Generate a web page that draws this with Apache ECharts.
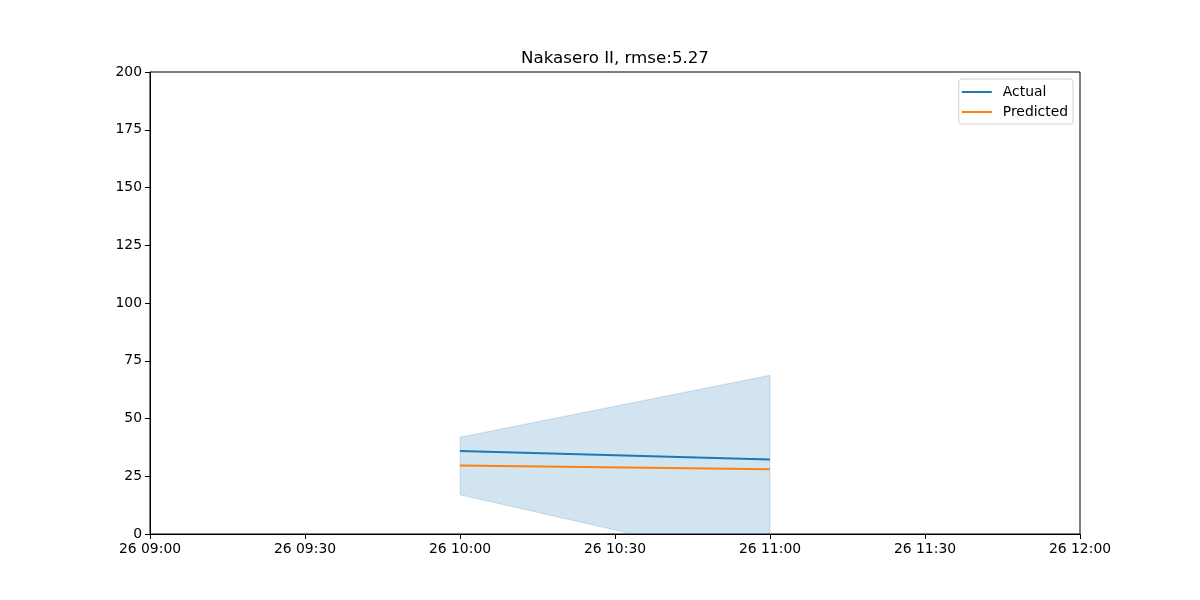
<!DOCTYPE html>
<html>
<head>
<meta charset="utf-8">
<script src="https://cdn.jsdelivr.net/npm/echarts@6/dist/echarts.min.js"></script>
<style>html,body{margin:0;padding:0;background:#fff}#c{width:1200px;height:600px}</style>
</head>
<body>
<div id="c"></div>
<script>
const times = ['2023-01-26T10:00:00', '2023-01-26T11:00:00'];
const actual = [35.9, 32.3];
const predicted = [29.7, 28.0];
const lower = [17.0, -13.5];
const upper = [41.9, 68.7];
const xMin = '2023-01-26T09:00:00';
const xMax = '2023-01-26T12:00:00';
const yTicks = [0, 25, 50, 75, 100, 125, 150, 175, 200];

const ts = times.map(t => new Date(t).getTime());
const pad = n => String(n).padStart(2, '0');
const font = 'DejaVu Sans';
const HALF_HOUR = 30 * 60 * 1000;

const chart = echarts.init(document.getElementById('c'), null, {renderer: 'canvas'});
chart.setOption({
  animation: false,
  backgroundColor: '#fff',
  graphic: [{
    type: 'text', x: 615, y: 59,
    style: {
      text: 'Nakasero II, rmse:5.27', fill: '#000',
      font: '16.67px "DejaVu Sans"', textAlign: 'center', textVerticalAlign: 'middle'
    }
  }],
  legend: {
    orient: 'vertical', right: 127, top: 79,
    backgroundColor: '#fff', borderColor: '#d0d0d0', borderWidth: 1, borderRadius: 3,
    padding: [6, 5, 5, 3], itemGap: 6, itemWidth: 30, itemHeight: 2,
    icon: 'rect',
    textStyle: {fontFamily: font, fontSize: 13.9, color: '#000', padding: [0, 0, 0, 6]},
    data: ['Actual', 'Predicted']
  },
  grid: {left: 150, right: 120, top: 72, bottom: 66, show: true, borderColor: '#000', borderWidth: 1},
  xAxis: {
    type: 'value',
    min: new Date(xMin).getTime(), max: new Date(xMax).getTime(),
    interval: HALF_HOUR,
    axisLine: {show: true, lineStyle: {color: '#000'}},
    axisTick: {show: true, length: 5, lineStyle: {color: '#000'}},
    splitLine: {show: false},
    axisLabel: {
      fontFamily: font, fontSize: 13.9, color: '#000', margin: 8, showMinLabel: true, showMaxLabel: true,
      formatter: v => { const d = new Date(v); return pad(d.getDate()) + ' ' + pad(d.getHours()) + ':' + pad(d.getMinutes()); }
    }
  },
  yAxis: {
    type: 'value', min: yTicks[0], max: yTicks[yTicks.length - 1], interval: 25,
    axisLine: {show: true, lineStyle: {color: '#000'}},
    axisTick: {show: true, length: 5, lineStyle: {color: '#000'}},
    splitLine: {show: false},
    axisLabel: {fontFamily: font, fontSize: 13.9, color: '#000', margin: 8}
  },
  series: [
    {
      name: 'band', type: 'custom', clip: true, silent: true, z: 1,
      data: ts.slice(0, -1).map((t, i) => [t, lower[i], upper[i], ts[i + 1], lower[i + 1], upper[i + 1]]),
      renderItem: (params, api) => {
        const p = [
          api.coord([api.value(0), api.value(2)]),
          api.coord([api.value(3), api.value(5)]),
          api.coord([api.value(3), api.value(4)]),
          api.coord([api.value(0), api.value(1)])
        ];
        const cs = params.coordSys;
        return {
          type: 'polygon',
          shape: {points: p},
          clipPath: {type: 'rect', shape: {x: cs.x, y: cs.y, width: cs.width, height: cs.height}},
          style: {fill: 'rgba(31,119,180,0.2)', stroke: 'rgba(31,119,180,0.2)', lineWidth: 1}
        };
      }
    },
    {
      name: 'Actual', type: 'line', data: ts.map((t, i) => [t, actual[i]]),
      symbol: 'none', lineStyle: {color: '#1f77b4', width: 2}, itemStyle: {color: '#1f77b4'}, z: 5
    },
    {
      name: 'Predicted', type: 'line', data: ts.map((t, i) => [t, predicted[i]]),
      symbol: 'none', lineStyle: {color: '#ff7f0e', width: 2}, itemStyle: {color: '#ff7f0e'}, z: 5
    }
  ]
});
</script>
</body>
</html>
